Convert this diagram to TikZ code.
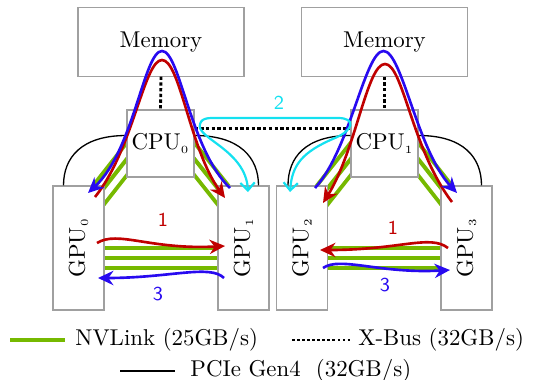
\documentclass[tikz,border=0pt]{standalone}
\usepackage{graphicx}
\usepackage{tikz}
\usetikzlibrary{calc,positioning,backgrounds}
\usetikzlibrary{arrows.meta}
\definecolor{nvgreen}{RGB}{118,185,0}
\definecolor{flowred}{RGB}{192,0,0}
\definecolor{flowblue}{RGB}{40,10,240}
\definecolor{flowcyan}{RGB}{20,225,240}
\definecolor{boxgray}{RGB}{160,160,160}
\tikzset{>={Stealth[length=7pt,width=6.5pt]}}

\begin{document}
\begin{tikzpicture}[x=0.455pt, y=-0.455pt, font=\fontsize{10.4pt}{12.5pt}\selectfont]
  \tikzstyle{memnode} = [draw=boxgray, line width=0.5pt, fill=white, minimum width=75.5pt, minimum height=31pt, inner sep=0pt]
  \tikzstyle{cpunode} = [draw=boxgray, line width=0.5pt, fill=white, minimum size=30.5pt, inner sep=0pt]
  \tikzstyle{gpunode} = [draw=boxgray, line width=0.5pt, fill=white, minimum width=23.2pt, minimum height=56.4pt, inner sep=0pt]
  \tikzstyle{nvlink} = [draw=nvgreen, line width=10.9pt, postaction={draw=white, line width=7.3pt}, postaction={draw=nvgreen, line width=1.82pt}]
  \tikzstyle{xbus} = [line width=1.3pt, dash pattern=on 1.5pt off 1.1pt]
  \tikzstyle{pcie} = [line width=0.6pt]
  \tikzstyle{redflow} = [->, flowred, line width=1.2pt]
  \tikzstyle{blueflow} = [->, flowblue, line width=1.2pt]
  \tikzstyle{cyanflow} = [flowcyan, line width=1pt, arrows={Straight Barb[length=3.5pt,width=6.5pt]-Straight Barb[length=3.5pt,width=6.5pt]}]
  \tikzstyle{numlabel} = [font=\sffamily\small, inner sep=0pt]
  \tikzstyle{legtext} = [anchor=west, inner sep=0pt]

  \useasboundingbox (0,0) rectangle (537,379);

  % memory, cpus, gpus
  \node[memnode] (mem0) at (161,42) {Memory};
  \node[memnode] (mem1) at (384.5,42) {Memory};
  \node[cpunode] (cpu0) at (160.5,143.5) {CPU$_{\scriptscriptstyle 0}$};
  \node[cpunode] (cpu1) at (384.5,143.5) {CPU$_{\scriptscriptstyle 1}$};
  \node[gpunode] (gpu0) at (78.5,248) {\rotatebox{90}{GPU$_{\scriptscriptstyle 0}$}};
  \node[gpunode] (gpu1) at (243.5,248) {\rotatebox{90}{GPU$_{\scriptscriptstyle 1}$}};
  \node[gpunode] (gpu2) at (302,248) {\rotatebox{90}{GPU$_{\scriptscriptstyle 2}$}};
  \node[gpunode] (gpu3) at (466.5,248) {\rotatebox{90}{GPU$_{\scriptscriptstyle 3}$}};

  % nvlink bands behind the boxes
  \begin{scope}[on background layer]
    \draw[nvlink] ($(gpu0.east)+(0,10)$) -- ($(gpu1.west)+(0,10)$);
    \draw[nvlink] ($(gpu2.east)+(0,10)$) -- ($(gpu3.west)+(0,10)$);
    \foreach \c/\g/\a/\b in {cpu0/gpu0/-90/90, cpu0/gpu1/90/-90, cpu1/gpu2/-90/90, cpu1/gpu3/90/-90}
      \draw[nvlink] ($(\c.center)!7.7pt!\a:(\g.center)$) -- ($(\g.center)!7.7pt!\b:(\c.center)$);
  \end{scope}

  % x-bus
  \draw[xbus] (mem0.south) -- (cpu0.north);
  \draw[xbus] (mem1.south) -- (cpu1.north);
  \draw[xbus] ($(cpu0.east)+(0,-15)$) -- ($(cpu1.west)+(0,-15)$);

  % pcie
  \draw[pcie] ($(cpu0.west)+(0,-8)$) .. controls +(-45,0) and +(0,-28) .. ($(gpu0.north)+(-15,0)$);
  \draw[pcie] ($(cpu0.east)+(0,-8)$) .. controls +(45,0) and +(0,-28) .. ($(gpu1.north)+(15,0)$);
  \draw[pcie] ($(cpu1.west)+(0,-8)$) .. controls +(-45,0) and +(0,-28) .. ($(gpu2.north)+(-14,0)$);
  \draw[pcie] ($(cpu1.east)+(0,-8)$) .. controls +(45,0) and +(0,-28) .. ($(gpu3.north)+(15,0)$);

  % flow ends
  \coordinate (bl0s) at (230,188);
  \coordinate (bl0e) at (88,193);
  \coordinate (rd0s) at (95,197);
  \coordinate (rd0e) at (225,198);
  \coordinate (bl1s) at (315,188);
  \coordinate (bl1e) at (457,193);
  \coordinate (rd1s) at (452,202);
  \coordinate (rd1e) at (323,203);
  \coordinate (rh0s) at (97,243);
  \coordinate (rh0e) at (225,246);
  \coordinate (bh0s) at (224,278);
  \coordinate (bh0e) at (98,278);
  \coordinate (rh1s) at (448,248);
  \coordinate (rh1e) at (320,250);
  \coordinate (bh1s) at (323,268);
  \coordinate (bh1e) at (450,270);
  \coordinate (cy0) at (248,192);
  \coordinate (cy1) at (290,192);

  % memory to gpu flows
  \draw[redflow] (rd0s) .. controls (133,150) and (144,60) .. (162,60) .. controls (180,60) and (190,150) .. (rd0e);
  \draw[blueflow] (bl0s) .. controls (190,150) and (180,51) .. (162,51) .. controls (144,51) and (134,150) .. (bl0e);
  \draw[redflow] (rd1s) .. controls (412,150) and (403,64) .. (385,64) .. controls (367,64) and (356,150) .. (rd1e);
  \draw[blueflow] (bl1s) .. controls (350,150) and (365,51) .. (383.5,51) .. controls (402,51) and (417,150) .. (bl1e);

  % gpu to gpu flows
  \draw[redflow] (rh0s) .. controls (118,230) and (150,250) .. (rh0e);
  \draw[blueflow] (bh0s) .. controls (210,264) and (170,278) .. (bh0e);
  \draw[redflow] (rh1s) .. controls (430,234) and (400,250) .. (rh1e);
  \draw[blueflow] (bh1s) .. controls (340,256) and (380,274) .. (bh1e);

  % across the x-bus
  \draw[cyanflow] (cy0) .. controls (246,150) and (195,138) .. (200,124) .. controls (202,117) and (210,118) .. (222,118) -- (338,118) .. controls (356,118) and (354,130) .. (335,138) .. controls (302,152) and (292,165) .. (cy1);

  \node[numlabel, text=flowred] (lab1a) at (163,220) {1};
  \node[numlabel, text=flowblue] (lab3a) at (158,294) {3};
  \node[numlabel, text=flowred] (lab1b) at (393,228) {1};
  \node[numlabel, text=flowblue] (lab3b) at (385,285) {3};
  \node[numlabel, text=flowcyan] (lab2) at (279,103) {2};

  % legend
  \node[legtext] (nvtxt) at (75,340) {NVLink (25GB/s)};
  \node[legtext] (xbtxt) at (358,340) {X-Bus (32GB/s)};
  \node[legtext] (pctxt) at (190,371) {PCIe Gen4\ \ (32GB/s)};
  \draw[nvgreen, line width=2pt] ($(nvtxt.west)+(-65,0)$) -- ($(nvtxt.west)+(-10,0)$);
  \draw[line width=1.2pt, dash pattern=on 1.2pt off 1.1pt] ($(xbtxt.west)+(-66,0)$) -- ($(xbtxt.west)+(-8,0)$);
  \draw[pcie] ($(pctxt.west)+(-70,0)$) -- ($(pctxt.west)+(-15,0)$);
\end{tikzpicture}
\end{document}
